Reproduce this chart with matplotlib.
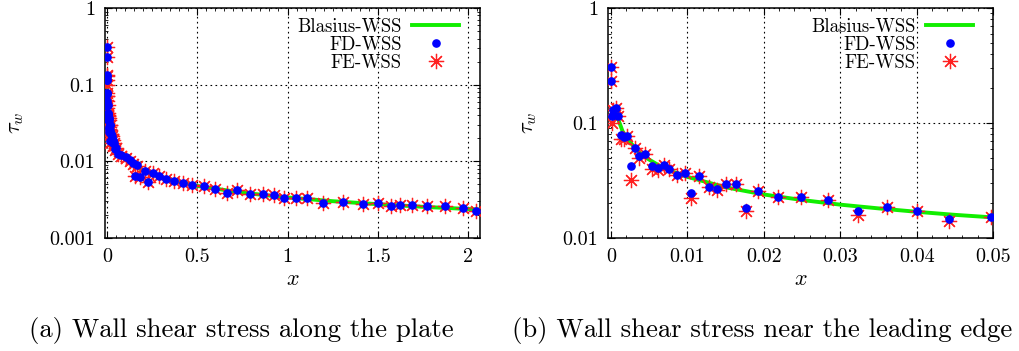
import numpy as np
import matplotlib
matplotlib.use("Agg")
import matplotlib.pyplot as plt
from matplotlib.ticker import MultipleLocator, LogLocator, NullFormatter, FixedLocator

plt.rcParams["font.family"] = "cmr10"
plt.rcParams["mathtext.fontset"] = "cm"
plt.rcParams["axes.formatter.use_mathtext"] = True

# wall shear stress samples (FD and FE solutions share the x positions)
x_pts = [0.0, 0.0, 0.0001, 0.0003, 0.0006, 0.0009, 0.0013, 0.0017, 0.0021, 0.0026,
         0.0031, 0.0037, 0.0044, 0.0053, 0.0062, 0.0069, 0.0076, 0.0086, 0.0097, 0.0105,
         0.0115, 0.0128, 0.0139, 0.0151, 0.0164, 0.0176, 0.0193, 0.0219, 0.0249, 0.0284,
         0.0323, 0.0361, 0.0401, 0.0442, 0.0498,
         0.063, 0.081, 0.105, 0.127, 0.146, 0.155, 0.168, 0.186, 0.21, 0.229,
         0.256, 0.29, 0.327, 0.371, 0.423, 0.474, 0.537, 0.598, 0.663, 0.722,
         0.792, 0.862, 0.925, 0.982, 1.045, 1.109, 1.194, 1.305, 1.416, 1.502,
         1.571, 1.622, 1.69, 1.774, 1.872, 1.97, 2.043]
fd_wss = [0.308, 0.233, 0.114, 0.130, 0.134, 0.116, 0.078, 0.076, 0.077, 0.042,
          0.0605, 0.052, 0.054, 0.042, 0.041, 0.043, 0.0396, 0.035, 0.037, 0.0244,
          0.0349, 0.0278, 0.0267, 0.0295, 0.0295, 0.0184, 0.0257, 0.0225, 0.0225, 0.0213,
          0.0172, 0.0187, 0.0172, 0.0147, 0.0151,
          0.0126, 0.0120, 0.0114, 0.0103, 0.0094, 0.0065, 0.0089, 0.0063, 0.0075, 0.0054,
          0.0071, 0.0065, 0.0058, 0.0055, 0.0052, 0.0049, 0.00483, 0.0043, 0.0039, 0.0042,
          0.0038, 0.00373, 0.00359, 0.00334, 0.00334, 0.00334, 0.00287, 0.00293, 0.00279, 0.00285,
          0.00262, 0.0027, 0.0027, 0.00262, 0.00258, 0.00243, 0.00226]
fe_wss = [0.308, 0.233, 0.100, 0.130, 0.134, 0.116, 0.072, 0.072, 0.077, 0.0318,
          0.0605, 0.050, 0.054, 0.040, 0.039, 0.043, 0.0396, 0.035, 0.037, 0.0221,
          0.0349, 0.0278, 0.0260, 0.0295, 0.0295, 0.0171, 0.0257, 0.0225, 0.0225, 0.0213,
          0.0158, 0.0187, 0.0172, 0.0140, 0.0151,
          0.0126, 0.0118, 0.0112, 0.0101, 0.0092, 0.0065, 0.0088, 0.0063, 0.0075, 0.0054,
          0.0071, 0.0065, 0.0058, 0.0055, 0.0052, 0.0049, 0.00483, 0.0043, 0.0039, 0.0042,
          0.0038, 0.00373, 0.00359, 0.00334, 0.00334, 0.00334, 0.00287, 0.00293, 0.00279, 0.00285,
          0.00262, 0.0027, 0.0027, 0.00262, 0.00258, 0.00243, 0.00226]

# Blasius reference curve
x_bl = [0.0006, 0.001, 0.0015, 0.002, 0.003, 0.004, 0.005, 0.007, 0.01, 0.015,
        0.02, 0.025, 0.03, 0.035, 0.04, 0.045, 0.05, 0.1, 0.2, 0.3, 0.5,
        0.75, 1.0, 1.25, 1.5, 1.75, 2.0, 2.07]
y_bl = [0.125, 0.105, 0.085, 0.075, 0.062, 0.053, 0.048, 0.040, 0.034, 0.0276,
        0.0239, 0.0214, 0.0195, 0.0181, 0.0169, 0.0159, 0.0151, 0.0107, 0.00755, 0.00617, 0.00478,
        0.0039, 0.00338, 0.00302, 0.00276, 0.00255, 0.00239, 0.00235]

captions = ["(a) Wall shear stress along the plate",
            "(b) Wall shear stress near the leading edge"]

fig = plt.figure(figsize=(10.19, 3.51), dpi=100)
ax1 = fig.add_axes([105/1019, 1 - 238/351, 375/1019, 230/351])
ax2 = fig.add_axes([608/1019, 1 - 238/351, 385/1019, 230/351])

x_arr = np.array(x_pts)
settings = [
    (ax1, (-0.01, 2.065), (0.001, 1), 0.05, [0, 0.5, 1, 1.5, 2], ["0", "0.5", "1", "1.5", "2"], 21),
    (ax2, (-0.0004, 0.05), (0.01, 1), 0.002,
     [0, 0.01, 0.02, 0.03, 0.04, 0.05], ["0", "0.01", "0.02", "0.03", "0.04", "0.05"], 20),
]

for ax, xl, yl, mnr, xt, xtl, right_gap in settings:
    ax.plot(x_bl, y_bl, color="#11ee00", lw=2.8, label="Blasius-WSS", zorder=2)
    ax.plot(x_arr, fd_wss, ls="none", marker="o", ms=5.2, color="#0000ff",
            label="FD-WSS", zorder=4)
    ax.plot(x_arr, fe_wss, ls="none", marker=(8, 2, 0), ms=11, mew=0.9,
            color="#ff2020", label="FE-WSS", zorder=3)
    ax.set_yscale("log")
    ax.set_xlim(*xl)
    ax.set_ylim(*yl)
    ax.xaxis.set_major_locator(FixedLocator(xt))
    ax.set_xticklabels(xtl)
    ax.xaxis.set_minor_locator(MultipleLocator(mnr))
    ax.yaxis.set_minor_locator(LogLocator(base=10, subs=np.arange(2, 10), numticks=10))
    ax.yaxis.set_minor_formatter(NullFormatter())
    yt = [0.001, 0.01, 0.1, 1] if yl[0] == 0.001 else [0.01, 0.1, 1]
    ax.set_yticks(yt)
    ax.set_yticklabels([("%g" % v) for v in yt])
    ax.tick_params(which="both", direction="in", top=True, right=True, labelsize=14.5, pad=7)
    ax.tick_params(which="major", length=5, width=0.8)
    ax.tick_params(which="minor", length=2.5, width=0.6)
    ax.grid(True, which="major", ls=(0, (1.5, 3)), color="black", lw=0.8)
    for s in ax.spines.values():
        s.set_linewidth(1.1)
    ax.set_xlabel("$x$", fontsize=16, labelpad=3)
    ax.set_ylabel(r"$\tau_w$", fontsize=16, labelpad=17)
    w_px = ax.get_position().width * 1019
    h_px = ax.get_position().height * 351
    ax.legend(loc="upper right", frameon=False, markerfirst=False, fontsize=13.5,
              handlelength=2.5, labelspacing=0.0, borderpad=0, borderaxespad=0,
              handletextpad=0.55,
              bbox_to_anchor=(1 - right_gap / w_px, 1 - 10 / h_px))

fig.text(241/1019, 1 - 330/351, captions[0], fontsize=19.2, ha="center", va="center")
fig.text(762/1019, 1 - 330/351, captions[1], fontsize=19.2, ha="center", va="center")

fig.savefig("out.png", dpi=100)
